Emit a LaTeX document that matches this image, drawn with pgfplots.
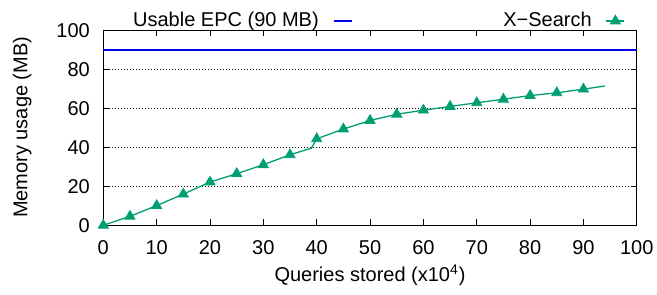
\documentclass[border=0pt]{standalone}
\usepackage{fontspec}
\setmainfont{Liberation Sans}
\usepackage{pgfplots}
\pgfplotsset{compat=1.18}
\definecolor{xgreen}{RGB}{0,158,115}
\definecolor{epcblue}{RGB}{0,0,235}
\begin{document}
\begin{tikzpicture}[font=\fontsize{10}{12}\selectfont]
\useasboundingbox (-51.65pt,-34.35pt) rectangle (276.85pt,112.65pt);
\begin{axis}[
  scale only axis, width=266.75pt, height=97.4pt,
  xmin=0, xmax=100, ymin=0, ymax=100,
  xtick={0,10,...,100}, ytick={0,20,...,100},
  tick pos=both, ticklabel pos=left, tick align=inside,
  major tick length=3pt,
  tick style={black, line width=0.45pt},
  axis line style={black, line width=0.65pt},
  ymajorgrids,
  grid style={black, line width=0.5pt, dash pattern=on 0.5pt off 1pt},
  /pgf/number format/assume math mode=true,
  xticklabel style={yshift=-4.2pt},
  yticklabel style={xshift=-3.2pt},
  xlabel={Queries stored (x10\textsuperscript{4})},
  ylabel={Memory usage (MB)},
  xlabel style={at={(axis description cs:0.5,-0.288)}, anchor=base},
  ylabel style={at={(axis description cs:-0.152,0.503)}, anchor=center},
  clip=false,
  legend columns=2,
  legend plot pos=right,
  legend style={draw=none, fill=none, inner sep=0pt, outer sep=0pt,
    at={(axis description cs:0.978,1.004)}, anchor=south east,
    nodes={inner sep=0pt},
    /tikz/every odd column/.append style={column sep=7pt}},
  legend image code/.code={
    \draw[#1, mark=none] (0pt,0pt) -- (9pt,0pt);
    \draw[#1] plot coordinates {(4.5pt,0pt)};
  },
]
\addplot[epcblue, line width=1pt, mark=none] coordinates {(0,90) (100,90)};
\addlegendentry{Usable EPC (90 MB)}
\addplot[xgreen, line width=0.65pt, mark=triangle*, mark size=2.9pt,
  mark options={solid, fill=xgreen, line width=0.4pt},
  mark indices={1,2,3,4,5,6,7,8,10,11,12,13,14,15,16,17,18,19,20}]
  coordinates {
  (0,0) (5,4.6) (10,10.1) (15,16.0) (20,22.2) (25,26.5) (30,31.1) (35,36.2)
  (39,39.6) (40,44.4) (45,49.4) (50,53.8) (55,57.0) (60,59.1) (65,61.0)
  (70,62.9) (75,64.7) (80,66.6) (85,68.0) (90,69.9) (94,71.5)
  };
\addlegendentry{\makebox[119.5pt][r]{X−Search}}
\end{axis}
\end{tikzpicture}
\end{document}
